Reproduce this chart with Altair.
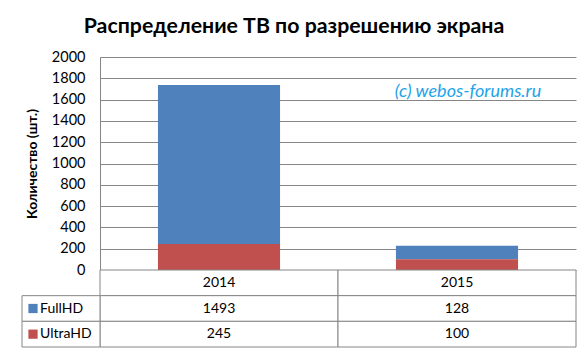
import altair as alt
import pandas as pd

# ---- data ----
years = ["2014", "2015"]
series = ["FullHD", "UltraHD"]
fullhd = [1493, 128]
ultrahd = [245, 100]
colors = ["#4F81BD", "#C0504D"]
y_ticks = [0, 200, 400, 600, 800, 1000, 1200, 1400, 1600, 1800, 2000]
chart_title = "Распределение ТВ по разрешению экрана"
y_title = "Количество (шт.)"
watermark = "(c) webos-forums.ru"
watermark_year = "2015"
watermark_level = 1670

FONT = "Lato"
GRID = "#868686"

rows = []
for i, yr in enumerate(years):
    rows.append({"year": yr, "series": "FullHD", "value": fullhd[i], "order": 1})
    rows.append({"year": yr, "series": "UltraHD", "value": ultrahd[i], "order": 0})
df = pd.DataFrame(rows)

W = 476

x_scale = alt.Scale(domain=years, paddingInner=0.487, paddingOuter=0.2435)
y_scale = alt.Scale(domain=[0, 2000], nice=False)

bars = alt.Chart(df).mark_bar().encode(
    x=alt.X("year:N", scale=x_scale, axis=None),
    y=alt.Y(
        "value:Q",
        stack="zero",
        scale=y_scale,
        axis=alt.Axis(
            values=y_ticks,
            tickCount=len(y_ticks),
            format="d",
            labelOverlap=False,
            title=y_title,
            grid=True,
            gridColor=GRID,
            domainColor=GRID,
            ticks=False,
            labelFont=FONT,
            labelFontSize=14.5,
            labelColor="black",
            labelPadding=15,
            titleFont=FONT,
            titleFontSize=14,
            titleFontWeight="bold",
            titleColor="black",
            titlePadding=12,
        ),
    ),
    color=alt.Color("series:N", scale=alt.Scale(domain=series, range=colors), legend=None),
    order=alt.Order("order:Q"),
)

wm = alt.Chart(pd.DataFrame({"year": [watermark_year], "v": [watermark_level], "t": [watermark]})).mark_text(
    font=FONT, fontSize=18, fontStyle="italic", color="#1FA3E8", dx=11
).encode(
    x=alt.X("year:N", scale=x_scale, axis=None),
    y=alt.Y("v:Q", scale=y_scale),
    text="t:N",
)

top = alt.layer(bars, wm).properties(width=W, height=213)

# ---- data table ----
row_names = ["hdr"] + series
cells = []
for i, yr in enumerate(years):
    cells.append({"year": yr, "row": "hdr", "txt": yr})
    cells.append({"year": yr, "row": "FullHD", "txt": str(fullhd[i])})
    cells.append({"year": yr, "row": "UltraHD", "txt": str(ultrahd[i])})
cdf = pd.DataFrame(cells)

tx = alt.X("year:N", scale=alt.Scale(domain=years, paddingInner=0, paddingOuter=0), axis=None)
ty = alt.Y("row:N", scale=alt.Scale(domain=row_names, paddingInner=0, paddingOuter=0), axis=None)

cell_rects = alt.Chart(cdf).mark_rect(fill="white", stroke=GRID, strokeWidth=1).encode(x=tx, y=ty)
cell_text = alt.Chart(cdf).mark_text(font=FONT, fontSize=14, color="black").encode(x=tx, y=ty, text="txt:N")

ldf = pd.DataFrame({"row": series, "color": colors})
lab_rects = alt.Chart(ldf).mark_rect(fill="white", stroke=GRID, strokeWidth=1).encode(
    x=alt.value(-78), x2=alt.value(0), y=ty
)
lab_sq = alt.Chart(ldf).mark_square(size=85, opacity=1).encode(
    x=alt.value(-67), y=ty, color=alt.Color("color:N", scale=None)
)
lab_txt = alt.Chart(ldf).mark_text(font=FONT, fontSize=14, color="black", align="left").encode(
    x=alt.value(-60), y=ty, text="row:N"
)

table = alt.layer(cell_rects, cell_text, lab_rects, lab_sq, lab_txt).properties(width=W, height=77)

chart = alt.vconcat(top, table, spacing=0, bounds="flush").properties(
    title=alt.TitleParams(chart_title, font=FONT, fontSize=21.3, fontWeight="bold", color="black",
                          anchor="middle", offset=12, dx=-5),
    padding={"left": 21, "right": 9, "top": 15, "bottom": 5},
).configure_view(stroke=None)

chart.save("out.html", embed_options={"renderer": "svg", "actions": False})
